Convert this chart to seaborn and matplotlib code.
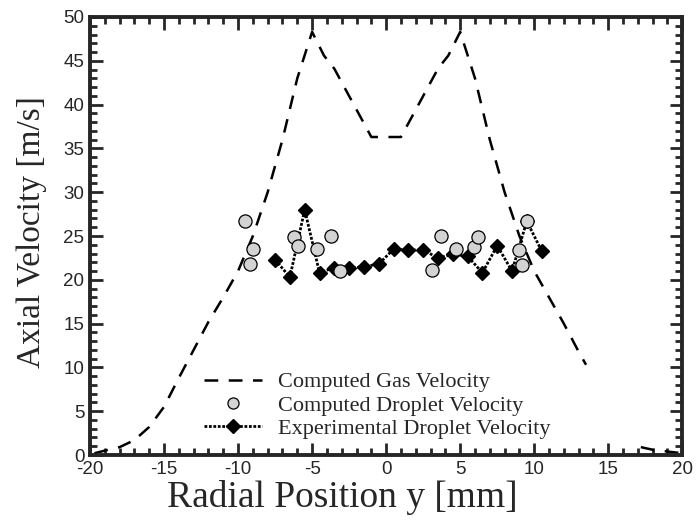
import numpy as np
import pandas as pd
import matplotlib
matplotlib.use("Agg")
import matplotlib.pyplot as plt
import seaborn as sns
from matplotlib.lines import Line2D
from matplotlib.ticker import MultipleLocator

# computed gas velocity (dashed line), two visible pieces
gas_x_a = [-19.7, -19, -18, -17, -16, -15, -14, -13, -12, -11, -10, -9, -8, -7, -6, -5,
           -4.2, -3.5, -1, 1, 3.5, 4.2, 5, 6, 7, 8, 9, 10, 11, 12, 13, 13.5]
gas_y_a = [0.2, 0.5, 0.9, 1.7, 3.2, 5.5, 8.8, 12.0, 15.2, 18.0, 21.0, 25.0, 30.0, 36.0, 43.0, 48.3,
           45.6, 44.1, 36.3, 36.3, 44.1, 45.6, 48.3, 43.0, 36.0, 30.0, 25.0, 21.0, 18.0, 15.0, 11.8, 10.3]
gas_x_b = [17.2, 18, 19, 20]
gas_y_b = [0.9, 0.6, 0.4, 0.2]

# computed droplet velocity (grey circles)
drop_x = [-9.5, -9.0, -9.2, -6.2, -5.95, -4.7, -3.73, -3.1,
          3.1, 3.73, 4.7, 5.95, 6.2, 9.0, 9.2, 9.5]
drop_y = [26.7, 23.5, 21.8, 24.9, 23.9, 23.5, 25.0, 21.0,
          21.1, 25.0, 23.5, 23.8, 24.9, 23.4, 21.7, 26.7]

# experimental droplet velocity (black diamonds)
exp_x = [-7.5, -6.5, -5.5, -4.5, -3.5, -2.5, -1.5, -0.5, 0.5, 1.5,
         2.5, 3.5, 4.5, 5.5, 6.5, 7.5, 8.5, 9.5, 10.5]
exp_y = [22.3, 20.3, 28.0, 20.8, 21.4, 21.3, 21.5, 21.8, 23.5, 23.4,
         23.4, 22.5, 22.9, 22.7, 20.8, 23.9, 21.0, 26.7, 23.3]

sns.set_style("ticks")
plt.rcParams['font.family'] = ['Liberation Sans', 'DejaVu Sans']
plt.rcParams['axes.unicode_minus'] = False

fig = plt.figure(figsize=(6.96, 5.23), dpi=100)
ax = fig.add_axes([0.1293, 0.130, 0.851, 0.8375])

gas_a = pd.DataFrame({"y": gas_x_a, "v": gas_y_a})
gas_b = pd.DataFrame({"y": gas_x_b, "v": gas_y_b})
exp = pd.DataFrame({"y": exp_x, "v": exp_y})
drop = pd.DataFrame({"y": drop_x, "v": drop_y})

dash = (5.5, 4.2)
for d in (gas_a, gas_b):
    sns.lineplot(data=d, x="y", y="v", ax=ax, color="black", lw=1.8,
                 sort=False, estimator=None, dashes=False)
for l in ax.lines:
    l.set_dashes(dash)

ax.plot(exp["y"], exp["v"], color="black", lw=2.0, ls=(0, (1, 0.6)),
        marker="D", ms=7.5, mfc="black", mec="black", zorder=3)
sns.scatterplot(data=drop, x="y", y="v", ax=ax, s=90, color="#d3d3d3",
                edgecolor="black", linewidth=0.9, zorder=4)

ax.set_xlim(-20, 20)
ax.set_ylim(0, 50)
ax.xaxis.set_major_locator(MultipleLocator(5))
ax.xaxis.set_minor_locator(MultipleLocator(1))
ax.yaxis.set_major_locator(MultipleLocator(5))
ax.yaxis.set_minor_locator(MultipleLocator(1))
ax.tick_params(which="both", direction="in", top=True, right=True, width=2)
ax.tick_params(which="major", length=9, labelsize=13.5, pad=4)
ax.tick_params(which="minor", length=5)
for s in ax.spines.values():
    s.set_linewidth(2.8)

serif = ['Liberation Serif', 'DejaVu Serif']
ax.set_xlabel("Radial Position y [mm]", fontsize=27, family=serif)
ax.xaxis.set_label_coords(0.426, -0.058)
ax.set_ylabel("Axial Velocity [m/s]", fontsize=24, family=serif)
ax.yaxis.set_label_coords(-0.072, 0.51)

handles = [
    Line2D([], [], color="black", lw=1.8, dashes=dash),
    Line2D([], [], ls="none", marker="o", ms=8, mfc="#d3d3d3", mec="black", mew=0.9),
    Line2D([], [], color="black", lw=2.0, ls=(0, (1, 0.6)), marker="D", ms=7.5),
]
labels = ["Computed Gas Velocity", "Computed Droplet Velocity",
          "Experimental Droplet Velocity"]
ax.legend(handles, labels, loc="upper left", bbox_to_anchor=(0.178, 0.21),
          frameon=False, handlelength=2.6, handletextpad=0.7, labelspacing=0.12,
          borderaxespad=0, prop={"family": serif, "size": 16})

fig.savefig("out.png", dpi=100)
